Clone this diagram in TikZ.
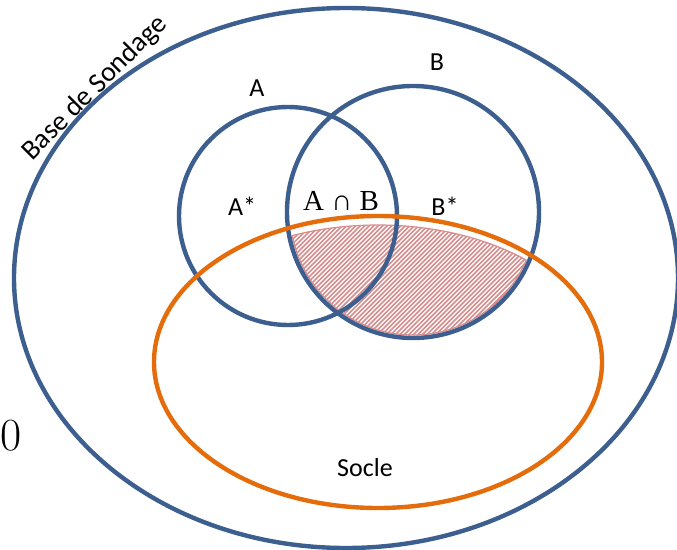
\documentclass[tikz,border=0pt]{standalone}
\usepackage{fontspec}
\setmainfont{Carlito}
\newfontfamily\capfont{Liberation Serif}
\definecolor{bl}{RGB}{60,95,143}
\definecolor{orn}{RGB}{228,108,10}
\definecolor{hat}{RGB}{216,140,140}
\begin{document}
\begin{tikzpicture}[x=1pt,y=-1pt,
  setline/.style={line width=4.4pt},
  lbl/.style={font=\fontsize{26}{30}\selectfont, inner sep=0pt}]
\useasboundingbox (0,0) rectangle (677,549);
% hatched region
\begin{scope}
  \clip (413,212) circle (123);
  \clip (378,365) ellipse (224 and 140);
  \fill[white] (280,200) rectangle (545,345);
  \foreach \i in {-300,-295.5,...,300} {
    \draw[hat, line width=1.5pt] (280+\i,345) -- (280+\i+150,195);
  }
\end{scope}
\begin{scope}
  \clip (413,212) circle (123);
  \draw[hat, line width=1.2pt] (378,365) ellipse (224 and 140);
\end{scope}
\begin{scope}
  \clip (378,365) ellipse (224 and 140);
  \draw[hat, line width=1.2pt] (413,212) circle (123);
\end{scope}
% shapes
\draw[bl, setline] (346,278) ellipse (332 and 270);
\draw[bl, setline] (288,216) circle (109);
\draw[bl, setline] (413,212) circle (126);
\draw[orn, setline] (378,362) ellipse (224 and 146);
% labels
\node[lbl] (A) at (257,88) {A};
\node[lbl] (B) at (437,62) {B};
\node[lbl] (As) at (242,206) {A*};
\node[lbl] (Bs) at (445,206) {B*};
\node[inner sep=0pt, font=\capfont\fontsize{29}{32}\selectfont] (AB) at (341,201) {A ∩ B};
\node[lbl] (S) at (365,468) {Socle};
\node[lbl, font=\fontsize{28}{32}\selectfont, rotate=45] (BS) at (95,88) {Base de Sondage};
\node[inner sep=0pt] (Z) at (11,436) {\fontspec{Latin Modern Roman}\fontsize{46}{50}\selectfont 0};
\end{tikzpicture}
\end{document}
